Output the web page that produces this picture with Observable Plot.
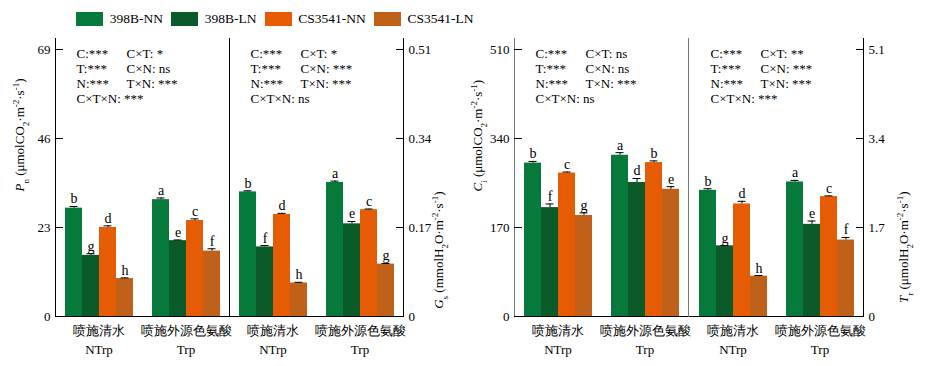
<!DOCTYPE html>
<html><head><meta charset="utf-8">
<script src="https://cdn.jsdelivr.net/npm/d3@7"></script>
<script src="https://cdn.jsdelivr.net/npm/@observablehq/plot@0.6"></script>
<style>
html,body{margin:0;background:#fff;overflow:hidden;}
#wrap{position:relative;width:927px;height:366px;font-family:"Liberation Serif","Times New Roman",serif;}
#wrap > *{position:absolute;top:0;}
.lg-swatch{margin-right:8px !important;}
</style></head><body><div id="wrap"></div>
<script>
const treatments = ["NTrp", "Trp"];
const treatmentLabels = ["喷施清水\nNTrp", "喷施外源色氨酸\nTrp"];
const series = ["398B-NN", "398B-LN", "CS3541-NN", "CS3541-LN"];
const seriesColors = ["#067a3b", "#0b5b2a", "#e65c04", "#bf6118"];

// order: NTrp (4 series), then Trp (4 series)
const pnValues = [28.0, 15.8, 23.0, 9.8, 30.2, 19.6, 24.8, 16.9];
const pnErrors = [0.43, 0.43, 0.43, 0.17, 0.43, 0.17, 0.43, 0.6];
const pnLetters = ["b", "g", "d", "h", "a", "e", "c", "f"];
const pnStats = ["C:***", "C×T: *", "T:***", "C×N: ns", "N:***", "T×N: ***", "C×T×N: ***"];
const pnTicks = [0, 23, 46, 69];
const pnLabel = "P_n (μmolCO_2·m^-2·s^-1)";

const gsValues = [0.238, 0.133, 0.195, 0.064, 0.256, 0.177, 0.204, 0.100];
const gsErrors = [0.002, 0.0026, 0.002, 0.0013, 0.0026, 0.0045, 0.0013, 0.0013];
const gsLetters = ["b", "f", "d", "h", "a", "e", "c", "g"];
const gsStats = ["C:***", "C×T: *", "T:***", "C×N: ***", "N:***", "T×N: ***", "C×T×N: ns"];
const gsTicks = [0, 0.17, 0.34, 0.51];
const gsLabel = "G_s (mmolH_2O·m^-2·s^-1)";

const ciValues = [293, 208, 274, 193, 308, 256, 294, 243];
const ciErrors = [3.2, 7, 2, 5, 5, 7.6, 3.2, 5];
const ciLetters = ["b", "f", "c", "g", "a", "d", "b", "e"];
const ciStats = ["C:***", "C×T: ns", "T:***", "C×N: ns", "N:***", "T×N: ***", "C×T×N: ns"];
const ciTicks = [0, 170, 340, 510];
const ciLabel = "C_i (μmolCO_2·m^-2·s^-1)";

const trValues = [2.41, 1.35, 2.15, 0.77, 2.57, 1.76, 2.29, 1.46];
const trErrors = [0.03, 0.006, 0.05, 0.013, 0.03, 0.064, 0.013, 0.05];
const trLetters = ["b", "g", "d", "h", "a", "e", "c", "f"];
const trStats = ["C:***", "C×T: **", "T:***", "C×N: ***", "N:***", "T×N: ***", "C×T×N: ***"];
const trTicks = [0, 1.7, 3.4, 5.1];
const trLabel = "T_r (μmolH_2O·m^-2·s^-1)";

const FONT = '"Liberation Serif","Times New Roman",serif';
const wrap = document.getElementById("wrap");

function rows(values, errors, letters) {
  return treatments.flatMap((t, i) => series.map((s, j) => ({
    treatment: t, series: s, value: values[i * 4 + j], err: errors[i * 4 + j], letter: letters[i * 4 + j]
  })));
}

function setRich(textEl, spec) {
  textEl.textContent = "";
  const tokens = spec.split(/([_^]-?\w)/).filter(s => s);
  tokens.forEach((tok, i) => {
    const ts = document.createElementNS("http://www.w3.org/2000/svg", "tspan");
    if (tok[0] === "_" || tok[0] === "^") {
      ts.textContent = tok.slice(1);
      ts.setAttribute("baseline-shift", tok[0] === "_" ? "sub" : "super");
      ts.setAttribute("font-size", "9");
    } else {
      ts.textContent = tok;
      if (i === 0) ts.setAttribute("font-style", "italic");
    }
    textEl.appendChild(ts);
  });
}

const panels = [
  {values: pnValues, errors: pnErrors, letters: pnLetters, stats: pnStats, ticks: pnTicks, max: 71.84, label: pnLabel,
   side: "left", left: 0, width: 229, marginLeft: 54, marginRight: 0, frames: ["left", "right"], frameColor: "#000", labelDx: -36},
  {values: gsValues, errors: gsErrors, letters: gsLetters, stats: gsStats, ticks: gsTicks, max: 0.531, label: gsLabel,
   side: "right", left: 229, width: 240, marginLeft: 0, marginRight: 66, frames: ["right"], frameColor: "#000", labelDx: 35},
  {values: ciValues, errors: ciErrors, letters: ciLetters, stats: ciStats, ticks: ciTicks, max: 531, label: ciLabel,
   side: "left", left: 469, width: 219, marginLeft: 44, marginRight: 0, frames: ["left", "right"], frameColor: "#777", labelDx: -37},
  {values: trValues, errors: trErrors, letters: trLetters, stats: trStats, ticks: trTicks, max: 5.31, label: trLabel,
   side: "right", left: 688, width: 239, marginLeft: 0, marginRight: 64, frames: ["right"], frameColor: "#000", labelDx: 40}
];

for (const p of panels) {
  const data = rows(p.values, p.errors, p.letters);
  const top = d => d.value + d.err;
  const statMarks = p.stats.map((s, i) => Plot.text([s], {
    text: d => d, frameAnchor: "top-left", textAnchor: "start", facetAnchor: "left",
    dx: 21 + (i % 2) * 50, dy: 10 + Math.floor(i / 2) * 15, fontSize: 13
  }));
  const plot = Plot.plot({
    width: p.width, height: 366, marginTop: 38, marginBottom: 50,
    marginLeft: p.marginLeft, marginRight: p.marginRight,
    style: {fontFamily: FONT, fontSize: "13px", color: "#000", background: "none", overflow: "visible"},
    fx: {domain: treatments, padding: 0},
    x: {domain: series, paddingInner: 0, paddingOuter: 0.45, axis: null},
    y: {domain: [0, p.max]},
    color: {domain: series, range: seriesColors},
    marks: [
      Plot.barY(data, {fx: "treatment", x: "series", y: "value", fill: "series"}),
      Plot.ruleX(data, {fx: "treatment", x: "series", y1: "value", y2: top, stroke: "#000"}),
      Plot.tickY(data, {fx: "treatment", x: "series", y: top, stroke: "#000", insetLeft: 4.5, insetRight: 4.5}),
      Plot.text(data, {fx: "treatment", x: "series", y: top, text: "letter", lineAnchor: "bottom", dy: -3, fontSize: 14}),
      Plot.ruleY([0], {stroke: "#000"}),
      ...p.frames.map(a => Plot.frame({anchor: a, facetAnchor: a, stroke: p.frameColor})),
      Plot.axisY({anchor: p.side, ticks: p.ticks, tickSize: -8, tickPadding: 13, fontSize: 13, label: null,
        tickFormat: d => String(d)}),
      Plot.axisFx({anchor: "bottom", tickSize: 0, tickPadding: 5, label: null, fontSize: 13, lineHeight: 1.45,
        tickFormat: d => treatmentLabels[treatments.indexOf(d)]}),
      Plot.text([p.label], {text: d => d, frameAnchor: p.side, facetAnchor: p.side, rotate: -90,
        dx: p.labelDx, dy: 14, fontSize: 13}),
      ...statMarks
    ]
  });
  plot.style.left = p.left + "px";
  wrap.appendChild(plot);
  plot.querySelectorAll("text").forEach(t => { if (t.textContent === p.label) setRich(t, p.label); });
}

const legend = Plot.legend({
  color: {domain: series, range: seriesColors},
  legend: "swatches", swatchWidth: 27, swatchHeight: 14, className: "lg",
  style: {fontFamily: FONT, fontSize: "13.5px", color: "#000"}
});
legend.style.left = "76px";
legend.style.top = "2px";
wrap.appendChild(legend);
</script>
</body></html>
